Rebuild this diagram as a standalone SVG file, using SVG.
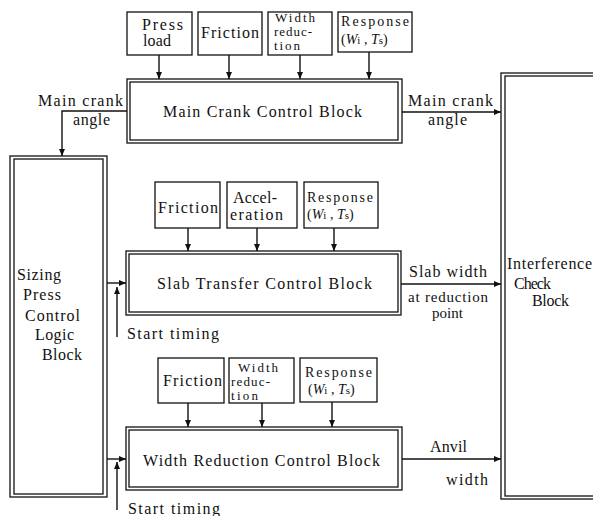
<svg xmlns="http://www.w3.org/2000/svg" width="593" height="516" viewBox="0 0 593 516">
<style>
.t{font-family:"Liberation Serif","Times New Roman",serif;font-size:16px;fill:#111}
.m{font-size:14px}
.n{font-size:13px}
.p{font-size:15px}
.i{font-style:italic}
.s{font-size:11px}
.b{fill:none;stroke:#111;stroke-width:1.3}
.c{fill:none;stroke:#111;stroke-width:1.4;marker-end:url(#ah)}
</style>
<defs>
<marker id="ah" markerUnits="userSpaceOnUse" markerWidth="7" markerHeight="6" refX="7" refY="3" orient="auto">
<path d="M0,0 L7,3 L0,6 z" fill="#111"/>
</marker>
</defs>
<rect width="593" height="516" fill="#fff"/>

<g id="press-load"><rect class="b" x="127" y="12" width="65" height="43"/>
<text class="t" x="142" y="30" textLength="41">Press</text>
<text class="t" x="143" y="46" textLength="28">load</text></g>

<g id="friction-1"><rect class="b" x="198" y="12" width="64" height="43"/>
<text class="t" x="201" y="38" textLength="58">Friction</text></g>

<g id="width-reduction-1"><rect class="b" x="268" y="12" width="64" height="43"/>
<text class="t n" x="275" y="22" textLength="40">Width</text>
<text class="t n" x="274" y="36" textLength="38">reduc-</text>
<text class="t n" x="274" y="50" textLength="26">tion</text></g>

<g id="response-1"><rect class="b" x="338" y="12" width="74" height="40"/>
<text class="t m" x="341" y="26" textLength="68">Response</text>
<text class="t m" x="341" y="44">(<tspan class="i">W</tspan><tspan class="s">i</tspan> , <tspan class="i">T</tspan><tspan class="s">s</tspan>)</text></g>

<g id="main-crank"><rect class="b" x="127" y="79" width="275" height="64"/><rect class="b" x="130" y="82" width="268" height="58"/>
<text class="t" x="163" y="117" textLength="199">Main Crank Control Block</text></g>

<g id="sizing-press"><rect class="b" x="10" y="156" width="97" height="341"/><rect class="b" x="14" y="159" width="89" height="335"/>
<text class="t" x="17" y="280" textLength="44">Sizing</text>
<text class="t" x="23" y="300" textLength="38">Press</text>
<text class="t" x="25" y="321" textLength="55">Control</text>
<text class="t" x="35" y="340" textLength="39">Logic</text>
<text class="t" x="42" y="360" textLength="40">Block</text></g>

<g id="friction-2"><rect class="b" x="155" y="182" width="65" height="46"/>
<text class="t" x="158" y="213" textLength="60">Friction</text></g>

<g id="acceleration"><rect class="b" x="227" y="182" width="70" height="46"/>
<text class="t" x="233" y="203" textLength="44">Accel-</text>
<text class="t" x="230" y="220" textLength="53">eration</text></g>

<g id="response-2"><rect class="b" x="304" y="182" width="74" height="46"/>
<text class="t m" x="307" y="202" textLength="66">Response</text>
<text class="t m" x="307" y="219">(<tspan class="i">W</tspan><tspan class="s">i</tspan> , <tspan class="i">T</tspan><tspan class="s">s</tspan>)</text></g>

<g id="slab-transfer"><rect class="b" x="126" y="251" width="275" height="64"/><rect class="b" x="129" y="254" width="269" height="58"/>
<text class="t" x="157" y="289" textLength="215">Slab Transfer Control Block</text></g>

<g id="friction-3"><rect class="b" x="158" y="358" width="66" height="45"/>
<text class="t" x="163" y="386" textLength="59">Friction</text></g>

<g id="width-reduction-2"><rect class="b" x="229" y="358" width="65" height="45"/>
<text class="t n" x="238" y="372" textLength="40">Width</text>
<text class="t n" x="231" y="386" textLength="39">reduc-</text>
<text class="t n" x="231" y="400" textLength="27">tion</text></g>

<g id="response-3"><rect class="b" x="300" y="358" width="77" height="44"/>
<text class="t m" x="305" y="377" textLength="67">Response</text>
<text class="t m" x="308" y="394">(<tspan class="i">W</tspan><tspan class="s">i</tspan> , <tspan class="i">T</tspan><tspan class="s">s</tspan>)</text></g>

<g id="width-reduction-block"><rect class="b" x="126" y="427" width="276" height="63"/><rect class="b" x="129" y="430" width="269" height="57"/>
<text class="t" x="143" y="466" textLength="237">Width Reduction Control Block</text></g>

<g id="interference"><rect class="b" x="501" y="73" width="120" height="426"/><rect class="b" x="505" y="76" width="120" height="420"/>
<text class="t" x="507" y="269" textLength="85">Interference</text>
<text class="t" x="514" y="289" textLength="37">Check</text>
<text class="t" x="532" y="306" textLength="37">Block</text></g>

<g id="connectors">
<path class="c" d="M159,55 V79"/>
<path class="c" d="M229,55 V79"/>
<path class="c" d="M300,55 V79"/>
<path class="c" d="M369,52 V79"/>
<path class="c" d="M127,111 H62 V156"/>
<path class="c" d="M402,112 H501"/>
<path class="c" d="M188,228 V251"/>
<path class="c" d="M257,228 V251"/>
<path class="c" d="M334,228 V251"/>
<path class="c" d="M107,283 H126"/>
<path class="c" d="M117,337 V287"/>
<path class="c" d="M401,284 H501"/>
<path class="c" d="M188,403 V427"/>
<path class="c" d="M262,403 V427"/>
<path class="c" d="M332,402 V427"/>
<path class="c" d="M107,459 H126"/>
<path class="c" d="M117,510 V462"/>
<path class="c" d="M402,459 H501"/>
</g>

<g id="labels">
<text class="t" x="38" y="106" textLength="85">Main crank</text>
<text class="t" x="73" y="125" textLength="37">angle</text>
<text class="t" x="408" y="106" textLength="85">Main crank</text>
<text class="t" x="428" y="125" textLength="39">angle</text>
<text class="t" x="409" y="277" textLength="78">Slab width</text>
<text class="t p" x="408" y="302" textLength="80">at reduction</text>
<text class="t p" x="432" y="318" textLength="31">point</text>
<text class="t" x="127" y="339" textLength="92">Start timing</text>
<text class="t" x="430" y="452" textLength="37">Anvil</text>
<text class="t" x="446" y="485" textLength="42">width</text>
<text class="t" x="128" y="514" textLength="92">Start timing</text>
</g>
</svg>
